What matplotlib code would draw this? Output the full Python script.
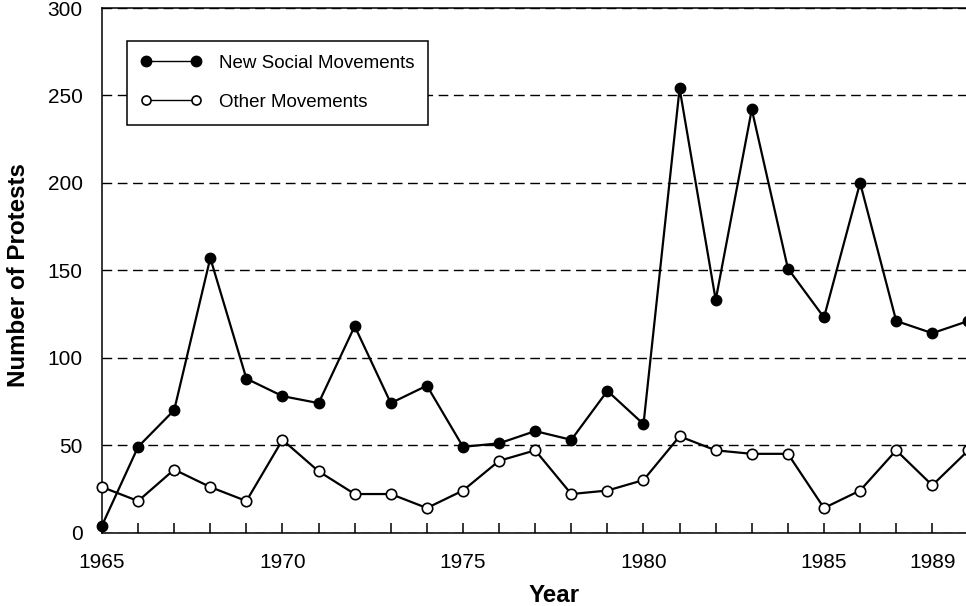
import matplotlib
matplotlib.use("Agg")
import matplotlib.pyplot as plt

plt.rcParams['font.family'] = ['Liberation Sans', 'DejaVu Sans']

# Data
years = list(range(1965, 1990))
new_social = [4, 49, 70, 157, 88, 78, 74, 118, 74, 84, 49, 51, 58, 53, 81, 62,
              254, 133, 242, 151, 123, 200, 121, 114, 121]
other = [26, 18, 36, 26, 18, 53, 35, 22, 22, 14, 24, 41, 47, 22, 24, 30,
         55, 47, 45, 45, 14, 24, 47, 27, 47]

# the original axis puts its "1989" label under the 24th point
tick_years = [1965, 1970, 1975, 1980, 1985, 1988]
tick_labels = ["1965", "1970", "1975", "1980", "1985", "1989"]
y_ticks = [0, 50, 100, 150, 200, 250, 300]

fig = plt.figure(figsize=(9.66, 6.06), dpi=100)
ax = fig.add_axes([102 / 966, 73.5 / 606, 866.4 / 966, 524.5 / 606])

ax.plot(years, new_social, color="black", lw=1.6, marker="o", ms=7.5,
        mfc="black", mec="black", label="New Social Movements", zorder=3,
        clip_on=False)
ax.plot(years, other, color="black", lw=1.6, marker="o", ms=7.5,
        mfc="white", mec="black", mew=1.2, label="Other Movements", zorder=4,
        clip_on=False)

ax.set_xlim(1965, 1989)
ax.set_ylim(0, 300)

ax.set_xticks(tick_years)
ax.set_xticklabels(tick_labels)
ax.set_xticks(years, minor=True)
ax.tick_params(axis="x", which="both", direction="in", length=7, width=1.1)
ax.tick_params(axis="x", which="major", pad=15, labelsize=15)

ax.set_yticks(y_ticks)
ax.tick_params(axis="y", length=0, pad=14, labelsize=15)

ax.grid(axis="y", color="black", lw=1.0, linestyle=(0, (7, 4)), zorder=1)
ax.set_axisbelow(True)

for side in ["left", "top", "bottom"]:
    ax.spines[side].set_linewidth(1.1)
ax.spines["right"].set_visible(False)

ax.set_ylabel("Number of Protests", fontsize=17.4, fontweight="bold")
ax.yaxis.set_label_coords(-72 / 866.4, 0.49)
ax.set_xlabel("Year", fontsize=17.4, fontweight="bold")
ax.xaxis.set_label_coords((554 - 102) / 866.4, -51 / 524.5)

leg = ax.legend(loc="upper left", bbox_to_anchor=(127 / 966, 1 - 41 / 606),
                bbox_transform=fig.transFigure, fontsize=13.5, frameon=True,
                fancybox=False, edgecolor="black", framealpha=1,
                numpoints=2, borderpad=0.73, labelspacing=1.17,
                handlelength=3.26, handletextpad=0.93, borderaxespad=0)
leg.get_frame().set_linewidth(1.1)
leg.set_zorder(5)
for h, size in zip(leg.legend_handles, [7.5, 6.5]):
    h.set_linewidth(1.0)
    h.set_markersize(size)

fig.savefig("out.png", dpi=100)
